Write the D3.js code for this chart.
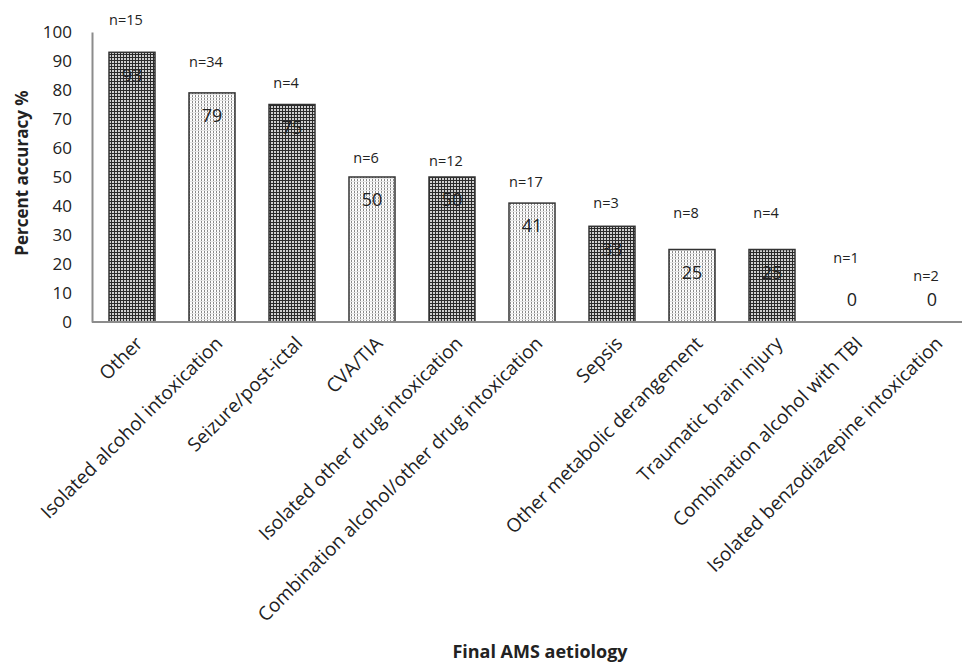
<!DOCTYPE html>
<html>
<head>
<meta charset="utf-8">
<script src="https://cdn.jsdelivr.net/npm/d3@7"></script>
<style>
  body { margin: 0; background: #fff; }
  text { font-family: "Open Sans", Lato, sans-serif; fill: #222; }
</style>
</head>
<body>
<svg id="chart" width="962" height="663"></svg>
<script>
// categories, accuracy values, sample sizes
const categories = [
  "Other", "Isolated alcohol intoxication", "Seizure/post-ictal", "CVA/TIA",
  "Isolated other drug intoxication", "Combination alcohol/other drug intoxication",
  "Sepsis", "Other metabolic derangement", "Traumatic brain injury",
  "Combination alcohol with TBI", "Isolated benzodiazepine intoxication"
];
const accuracy = [93, 79, 75, 50, 50, 41, 33, 25, 25, 0, 0];
const nLabels = ["n=15", "n=34", "n=4", "n=6", "n=12", "n=17", "n=3", "n=8", "n=4", "n=1", "n=2"];
// height (in % units) where each n= annotation sits
const nLevel = [104, 89.7, 82.4, 56.6, 55.6, 48.4, 41, 37.6, 37.6, 22, 15.9];
const yTicks = [0, 10, 20, 30, 40, 50, 60, 70, 80, 90, 100];

const svg = d3.select("#chart");

const x = d3.scaleBand().domain(categories).range([92, 972]).paddingInner(0.425).paddingOuter(0.2125);
const y = d3.scaleLinear().domain([0, 100]).range([322, 32]);

// fill patterns
const defs = svg.append("defs");
const dark = defs.append("pattern").attr("id", "dark")
  .attr("patternUnits", "userSpaceOnUse").attr("width", 3).attr("height", 3);
dark.append("rect").attr("width", 3).attr("height", 3).attr("fill", "#cfcfcf");
dark.append("rect").attr("width", 1).attr("height", 3).attr("fill", "#2a2a2a");
dark.append("rect").attr("width", 3).attr("height", 1).attr("fill", "#2a2a2a");

const light = defs.append("pattern").attr("id", "light")
  .attr("patternUnits", "userSpaceOnUse").attr("width", 3).attr("height", 3);
light.append("rect").attr("width", 3).attr("height", 3).attr("fill", "#fff");
light.append("rect").attr("width", 1).attr("height", 3).attr("fill", "#8a8a8a");
light.append("rect").attr("y", 1).attr("width", 3).attr("height", 1).attr("fill", "#e4e4e4");

// bars
svg.append("g").selectAll("rect")
  .data(categories)
  .join("rect")
  .attr("x", d => x(d))
  .attr("y", (d, i) => y(accuracy[i]))
  .attr("width", x.bandwidth())
  .attr("height", (d, i) => y(0) - y(accuracy[i]))
  .attr("fill", (d, i) => i % 2 === 0 ? "url(#dark)" : "url(#light)")
  .attr("stroke", "#333")
  .attr("stroke-width", 1.5);

// axes
const yAxis = svg.append("g")
  .attr("transform", `translate(92,0)`)
  .call(d3.axisLeft(y).tickValues(yTicks).tickSize(0).tickPadding(20));
yAxis.select(".domain").attr("stroke", "#8c8c8c").attr("stroke-width", 2);
yAxis.selectAll("text").style("font-size", "17px").style("font-family", "'Open Sans', sans-serif").attr("fill", "#222");

const xAxis = svg.append("g")
  .attr("transform", `translate(0,322)`)
  .call(d3.axisBottom(x).tickSize(0).tickFormat(""));
xAxis.select(".domain").attr("d", "M92,0H972").attr("stroke", "#8c8c8c").attr("stroke-width", 2);

// category labels
svg.append("g").selectAll("text")
  .data(categories)
  .join("text")
  .attr("transform", d => `translate(${x(d) + x.bandwidth() / 2 + 7},340) rotate(-45)`)
  .attr("text-anchor", "end")
  .attr("dy", "0.35em")
  .style("font-size", "19px")
  .text(d => d);

// value labels
svg.append("g").selectAll("text")
  .data(categories)
  .join("text")
  .attr("x", d => x(d) + x.bandwidth() / 2)
  .attr("y", (d, i) => accuracy[i] > 0 ? y(accuracy[i]) + 23 : y(0) - 22)
  .attr("text-anchor", "middle")
  .attr("dy", "0.35em")
  .style("font-size", "18px")
  .text((d, i) => accuracy[i]);

// n= labels
svg.append("g").selectAll("text")
  .data(categories)
  .join("text")
  .attr("x", d => x(d) + x.bandwidth() / 2 - 6)
  .attr("y", (d, i) => y(nLevel[i]))
  .attr("text-anchor", "middle")
  .attr("dy", "0.35em")
  .style("font-size", "14.5px")
  .text((d, i) => nLabels[i]);

// axis titles
svg.append("text")
  .attr("transform", "translate(22,173) rotate(-90)")
  .attr("text-anchor", "middle")
  .attr("dy", "0.35em")
  .style("font-size", "17px")
  .style("font-weight", "bold")
  .text("Percent accuracy %");

svg.append("text")
  .attr("x", 540)
  .attr("y", 652)
  .attr("text-anchor", "middle")
  .attr("dy", "0.35em")
  .style("font-size", "18px")
  .style("font-weight", "bold")
  .text("Final AMS aetiology");
</script>
</body>
</html>
